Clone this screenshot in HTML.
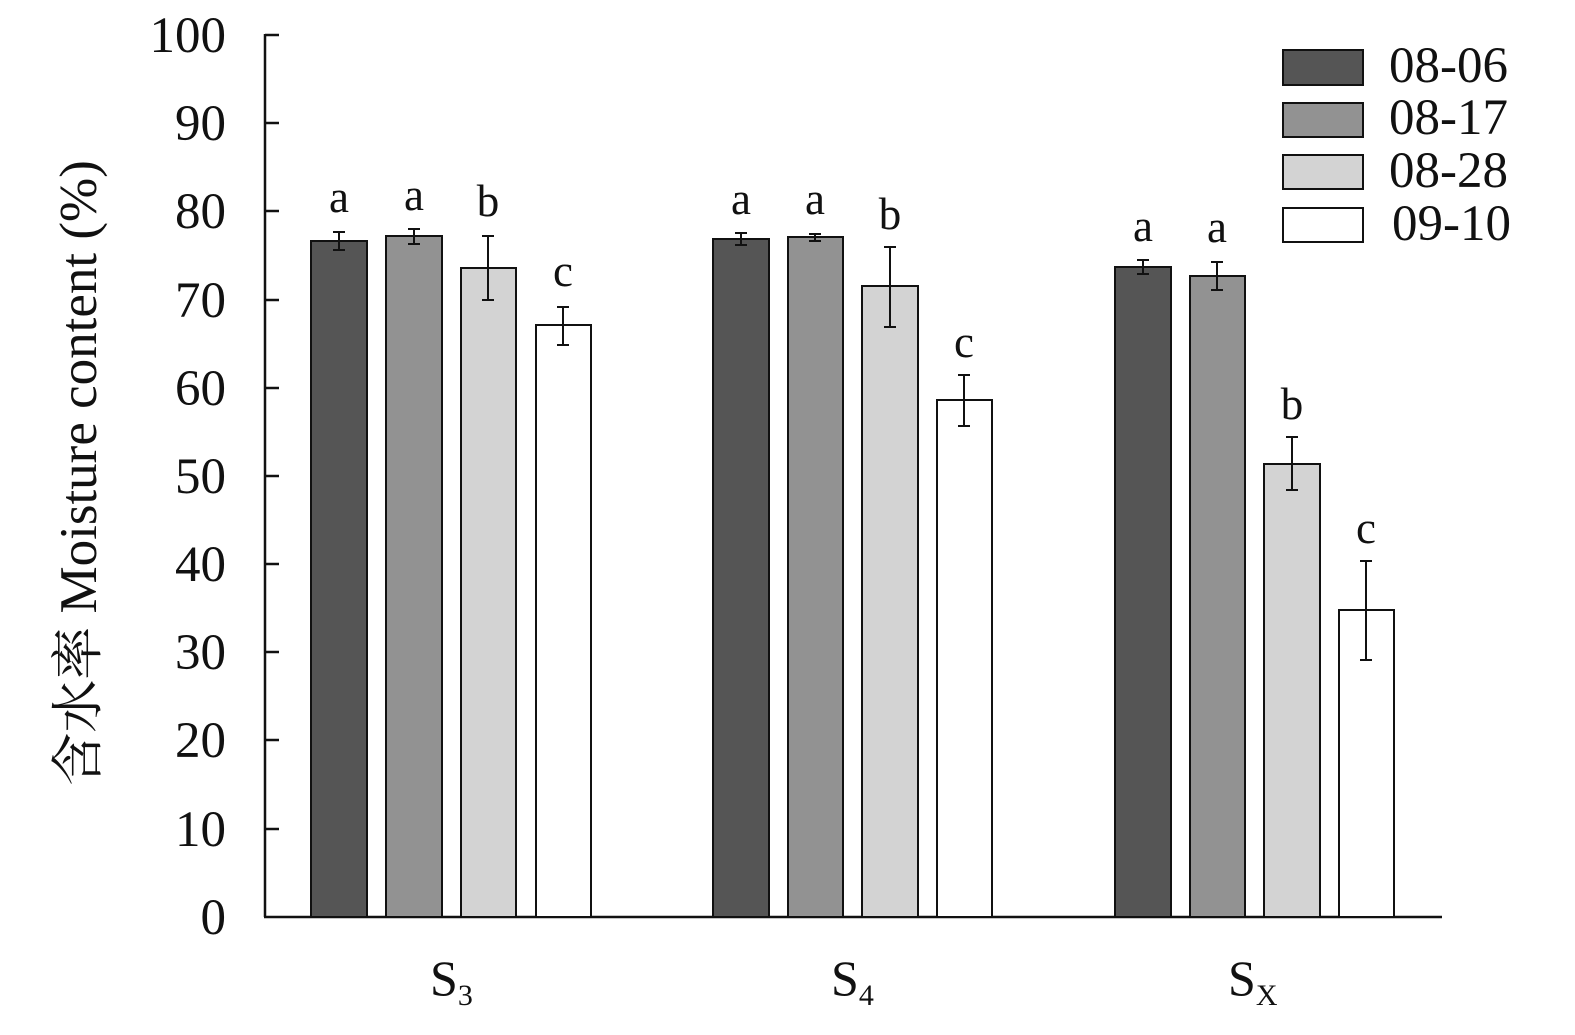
<!DOCTYPE html>
<html><head><meta charset="utf-8"><style>
html,body{margin:0;padding:0;background:#fff;}
svg{display:block;}
text{font-family:"Liberation Serif","Noto Serif CJK SC",serif;fill:#111;}
</style></head><body>
<svg width="1575" height="1035" viewBox="0 0 1575 1035" xmlns="http://www.w3.org/2000/svg">
<g stroke="#111" stroke-width="2.5" fill="none">
<line x1="265" y1="34" x2="265" y2="917"/>
<line x1="264" y1="917" x2="1442" y2="917"/>
<line x1="265" y1="35" x2="279" y2="35"/>
<line x1="265" y1="123" x2="279" y2="123"/>
<line x1="265" y1="211" x2="279" y2="211"/>
<line x1="265" y1="300" x2="279" y2="300"/>
<line x1="265" y1="388" x2="279" y2="388"/>
<line x1="265" y1="476" x2="279" y2="476"/>
<line x1="265" y1="564" x2="279" y2="564"/>
<line x1="265" y1="652" x2="279" y2="652"/>
<line x1="265" y1="740" x2="279" y2="740"/>
<line x1="265" y1="829" x2="279" y2="829"/>
</g>
<g font-size="51" text-anchor="end">
<text x="226" y="52">100</text><text x="226" y="140">90</text><text x="226" y="228">80</text>
<text x="226" y="317">70</text><text x="226" y="405">60</text><text x="226" y="493">50</text>
<text x="226" y="581">40</text><text x="226" y="669">30</text><text x="226" y="757">20</text>
<text x="226" y="846">10</text><text x="226" y="934">0</text>
</g>
<text transform="translate(96,473) rotate(-90)" font-size="53" text-anchor="middle">含水率 Moisture content (%)</text>
<g stroke="#111" stroke-width="2">
<rect x="311" y="241" width="56" height="676" fill="#555"/>
<rect x="386" y="236" width="56" height="681" fill="#929292"/>
<rect x="461" y="268" width="55" height="649" fill="#d3d3d3"/>
<rect x="536" y="325" width="55" height="592" fill="#fff"/>
<rect x="713" y="239" width="56" height="678" fill="#555"/>
<rect x="788" y="237" width="55" height="680" fill="#929292"/>
<rect x="862" y="286" width="56" height="631" fill="#d3d3d3"/>
<rect x="937" y="400" width="55" height="517" fill="#fff"/>
<rect x="1115" y="267" width="56" height="650" fill="#555"/>
<rect x="1190" y="276" width="55" height="641" fill="#929292"/>
<rect x="1264" y="464" width="56" height="453" fill="#d3d3d3"/>
<rect x="1339" y="610" width="55" height="307" fill="#fff"/>
</g>
<g stroke="#111" stroke-width="2" fill="none">
<path d="M339 232V250M333 232H345M333 250H345"/>
<path d="M414 229V244M408 229H420M408 244H420"/>
<path d="M488 236V300M482 236H494M482 300H494"/>
<path d="M563 307V345M557 307H569M557 345H569"/>
<path d="M741 233V245M735 233H747M735 245H747"/>
<path d="M815 234V241M809 234H821M809 241H821"/>
<path d="M890 247V327M884 247H896M884 327H896"/>
<path d="M964 375V426M958 375H970M958 426H970"/>
<path d="M1143 260V274M1137 260H1149M1137 274H1149"/>
<path d="M1217 262V290M1211 262H1223M1211 290H1223"/>
<path d="M1292 437V490M1286 437H1298M1286 490H1298"/>
<path d="M1366 561V660M1360 561H1372M1360 660H1372"/>
</g>
<g font-size="45" text-anchor="middle">
<text x="339" y="212">a</text><text x="414" y="210">a</text><text x="488" y="216">b</text><text x="563" y="286">c</text>
<text x="741" y="214">a</text><text x="815" y="214">a</text><text x="890" y="229">b</text><text x="964" y="357">c</text>
<text x="1143" y="241">a</text><text x="1217" y="242">a</text><text x="1292" y="419">b</text><text x="1366" y="543">c</text>
</g>
<g font-size="50">
<text x="430" y="995">S<tspan font-size="30" dy="10">3</tspan></text>
<text x="831" y="995">S<tspan font-size="30" dy="10">4</tspan></text>
<text x="1228" y="995">S<tspan font-size="30" dy="10">X</tspan></text>
</g>
<g stroke="#111" stroke-width="2">
<rect x="1283" y="50" width="80" height="35" fill="#555"/>
<rect x="1283" y="103" width="80" height="34" fill="#929292"/>
<rect x="1283" y="155" width="80" height="34" fill="#d3d3d3"/>
<rect x="1283" y="208" width="80" height="34" fill="#fff"/>
</g>
<g font-size="51">
<text x="1389" y="82">08-06</text><text x="1389" y="134">08-17</text>
<text x="1389" y="187">08-28</text><text x="1392" y="240">09-10</text>
</g>
</svg>
</body></html>
